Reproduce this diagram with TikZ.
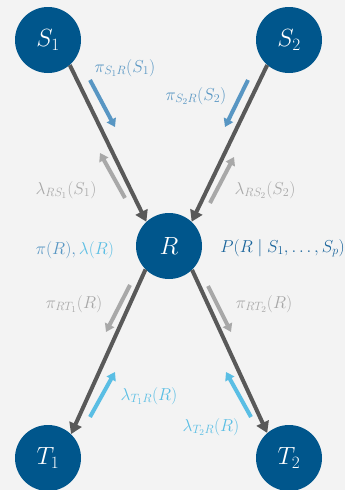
\documentclass[tikz,border=0pt]{standalone}
\usetikzlibrary{arrows.meta}
\definecolor{bg}{HTML}{F3F3F3}
\definecolor{nodeblue}{RGB}{0,86,140}
\definecolor{darkline}{HTML}{595959}
\definecolor{steel}{RGB}{88,150,195}
\definecolor{lgray}{HTML}{A8A8A8}
\definecolor{sky}{RGB}{90,190,228}
\definecolor{ptext}{RGB}{25,100,155}
\begin{document}
\begin{tikzpicture}[x=1pt,y=-1pt,
  vnode/.style={circle,fill=nodeblue,minimum size=66pt,inner sep=0pt,text=white,font=\fontsize{26}{30}\selectfont},
  mainedge/.style={draw=darkline,line width=4pt,-{Triangle[width=13pt,length=11pt]}},
  msg/.style={line width=4pt,-{Triangle[width=10pt,length=8pt]}},
  lbl/.style={font=\fontsize{18.5}{22}\selectfont,inner sep=0pt}]
\fill[bg] (0,0) rectangle (345,490);
\useasboundingbox (0,0) rectangle (345,490);

\node[vnode] (S1) at (48,40) {$S_1$};
\node[vnode] (S2) at (289,40) {$S_2$};
\node[vnode] (R) at (169,246) {$R$};
\node[vnode] (T1) at (48,458) {$T_1$};
\node[vnode] (T2) at (289,458) {$T_2$};

\draw[mainedge] (S1.-49) -- (R.133);
\draw[mainedge] (S2.-131) -- (R.47);
\draw[mainedge] (R.225) -- (T1.46);
\draw[mainedge] (R.-46) -- (T2.131);

\draw[msg,steel] (90,80) -- (115,127);
\draw[msg,lgray] (125,198) -- (100,153);
\draw[msg,steel] (248,80) -- (225,127);
\draw[msg,lgray] (210,203) -- (234,157);
\draw[msg,lgray] (130,285) -- (106,332);
\draw[msg,sky] (90,417) -- (115,372);
\draw[msg,lgray] (208,286) -- (231,332);
\draw[msg,sky] (251,417) -- (226,372);

\node[lbl,text=steel] (lS1) at (125,68) {$\pi_{S_1R}(S_1)$};
\node[lbl,text=steel] (lS2) at (196,96) {$\pi_{S_2R}(S_2)$};
\node[lbl,text=lgray] (mS1) at (66,190) {$\lambda_{RS_1}(S_1)$};
\node[lbl,text=lgray] (mS2) at (265,190) {$\lambda_{RS_2}(S_2)$};
\node[lbl] (bel) at (75,250) {$\textcolor{steel}{\pi(R),}\,\textcolor{sky}{\lambda(R)}$};
\node[lbl,text=ptext,anchor=east] (cpt) at (345,248) {$P\bigl(R\mid S_1,\ldots,S_p\bigr)$};
\node[lbl,text=lgray] (pT1) at (74,304) {$\pi_{RT_1}(R)$};
\node[lbl,text=lgray] (pT2) at (264,304) {$\pi_{RT_2}(R)$};
\node[lbl,text=sky] (lT1) at (149,396) {$\lambda_{T_1R}(R)$};
\node[lbl,text=sky] (lT2) at (211,427) {$\lambda_{T_2R}(R)$};
\end{tikzpicture}
\end{document}
